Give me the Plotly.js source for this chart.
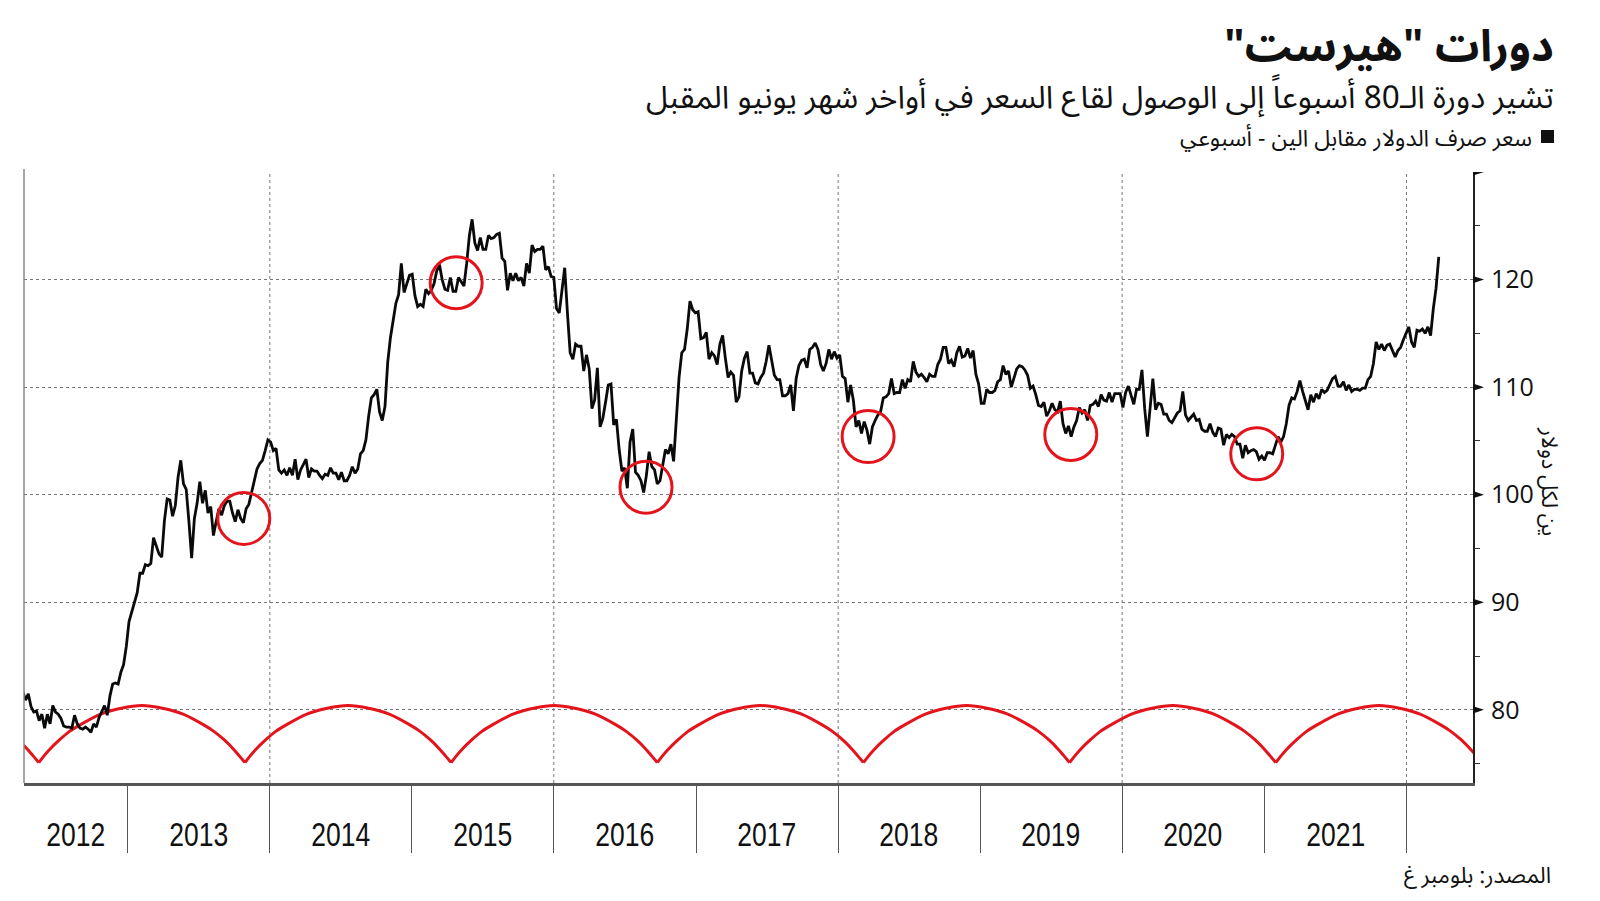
<!DOCTYPE html>
<html><head><meta charset="utf-8">
<script src="https://cdn.plot.ly/plotly-3.0.1.min.js"></script>
<style>html,body{margin:0;padding:0;background:#fff;}#chart{width:1600px;height:901px;}</style>
</head><body><div id="chart"></div>
<script>
// ---- DATA ----
const firstWeek = '2012-04-06'; // weekly (Friday) closes, USD/JPY
const usdjpy2012 = [81.7,80.9,81.5,80.3, 79.8,79.9,79.0,79.6, 78.3,79.6,78.7,80.4,79.8, 79.6,79.2,78.5,78.4, 78.4,78.3,79.5,78.7,78.3, 78.2,78.4,78.2,77.9, 78.7,78.4,79.3,79.9, 80.4,79.5,81.3,82.4,82.5, 82.4,83.5,84.2,85.9];
const usdjpy2013 = [88.2,89.2,90.0,90.9, 92.7,92.7,93.5,93.4, 93.6,96.0,95.3,94.5,94.2, 97.6,99.6,99.5,98.0, 99.0,101.6,103.2,101.0,100.5, 97.5,94.1,97.8,99.2, 101.2,99.2,100.4,98.3, 98.9,96.2,97.5,98.7,98.1, 99.0,99.4,99.4,98.3, 97.5,98.6,97.8,97.4, 98.7,99.1,100.2,101.3,102.4, 102.9,103.2,104.1,105.1];
const usdjpy2014 = [104.9,104.1,104.3,102.3,102.0, 102.3,101.8,102.5,101.8, 103.3,101.4,102.3,102.8, 103.3,101.6,102.4,102.2, 102.2,101.8,101.5,101.9,101.8, 102.5,102.0,102.0,101.4, 102.1,101.3,101.3,101.8, 102.6,102.0,102.4,103.8,104.1, 105.1,107.3,109.0,109.3, 109.8,107.7,106.9,108.2,112.3, 114.6,116.3,117.8,118.6, 121.5,118.8,119.5,120.4];
const usdjpy2015 = [120.5,118.5,117.5,117.7,117.5, 119.1,118.7,119.0,119.6, 120.8,121.4,120.0,119.1, 119.0,120.2,118.9,118.9, 120.2,119.8,119.4,121.5,124.1, 125.6,123.4,122.7,123.9, 122.8,122.8,124.1,123.8,123.9, 124.2,124.3,122.0,121.7, 119.0,120.6,119.9,120.6, 119.9,120.2,119.4,121.5,120.6, 123.2,122.6,122.8,122.8, 123.1,120.9,121.2,120.3];
const usdjpy2016 = [120.2,117.3,116.9,118.8,121.1, 116.9,113.2,112.6,114.0, 113.8,113.8,111.5,113.0, 111.7,108.0,108.8,111.8,106.3, 107.1,108.6,110.2,110.3, 106.5,107.0,104.2,102.2, 102.5,100.6,104.9,106.1,102.1, 101.8,101.3,100.2,101.8, 104.0,102.6,102.3,101.0,101.3, 102.9,104.2,103.8,104.7, 103.1,106.7,110.9,113.2, 113.5,115.4,118.0,117.2,116.9];
const usdjpy2017 = [117.0,114.5,114.6,115.1, 112.6,113.2,112.9,112.1, 114.0,114.8,112.7,110.9,111.4, 111.1,108.6,109.1,111.5, 112.7,113.3,111.3,111.3, 110.4,110.3,110.9,111.3,112.4, 113.9,112.5,111.1,110.7, 110.7,109.2,109.2,109.4, 110.2,107.8,110.8,112.0,112.5, 112.6,111.8,113.5,113.7, 114.1,113.5,112.1,111.5, 112.2,113.5,112.6,113.3,112.7];
const usdjpy2018 = [113.0,111.0,110.8,108.6, 110.2,108.8,106.3,106.9, 105.7,106.8,106.0,104.7,106.3, 106.9,107.4,107.7,109.0, 109.1,109.4,110.8,109.4, 109.5,109.5,110.7,109.9,110.7, 110.5,112.4,111.4,111.0, 111.2,110.9,110.5,111.2,111.0, 111.0,112.1,112.6,113.7, 113.7,112.2,112.5,111.9, 113.2,113.8,112.8,112.9,113.6, 112.7,113.4,111.2,110.3];
const usdjpy2019 = [108.5,108.5,109.8,109.5, 109.5,109.7,110.5,110.7, 112.0,111.2,111.5,110.0,110.9, 111.7,112.0,111.9,111.6, 111.1,109.9,110.1,109.3,108.3, 108.2,108.6,107.3,107.8, 108.5,107.9,107.7,108.7, 106.6,105.7,106.4,105.4,106.3, 106.9,108.1,107.6,107.9, 106.9,108.3,108.4,108.7, 108.2,109.3,108.8,108.7,109.5, 108.6,109.4,109.4,109.4];
const usdjpy2020 = [108.1,109.5,110.1,109.3,108.4, 109.8,109.8,111.6,108.0, 105.4,107.9,110.8,107.9, 108.5,108.4,107.5,107.5, 106.9,106.7,107.1,107.6,107.8, 109.6,107.4,106.9,107.2, 107.5,106.9,107.0,106.1,105.9, 105.9,106.6,105.8,105.4, 106.2,106.1,104.6,105.6, 105.3,105.6,105.4,104.7,104.7, 103.4,104.6,103.9,104.1, 104.2,104.0,103.3,103.6];
const usdjpy2021 = [103.2,103.9,103.9,103.8,104.7, 105.4,104.9,105.4,106.6, 108.3,109.0,108.9,109.6, 110.6,109.6,108.8,107.9,109.3, 108.6,109.4,108.9,109.8, 109.5,109.7,110.2,110.8, 111.0,110.1,110.1,110.5,109.7, 110.2,109.6,109.8,109.8, 109.7,109.9,109.9,110.7, 111.0,112.2,114.2,113.5,114.0, 113.4,113.9,114.0,113.4, 112.8,113.4,113.7,114.4,115.1];
const usdjpy2022 = [115.6,114.2,113.7,115.3, 115.2,115.4,115.0,115.6, 114.8,117.3,119.2,122.1];

// Hurst cycle: trough dates and the arch profile
const cycleTroughs = ['2010-12-04','2012-05-17','2013-10-29','2015-04-12','2016-09-23','2018-03-07','2019-08-19','2021-01-30','2022-07-14'];
const archFraction = [0,0.025,0.05,0.1,0.15,0.2,0.3,0.4,0.5,0.6,0.7,0.8,0.85,0.9,0.95,0.975,1];
const archValue    = [75.1,75.7,76.25,77.2,78.0,78.6,79.6,80.15,80.4,80.15,79.6,78.6,78.0,77.2,76.25,75.7,75.1];

// circled troughs
const troughDates  = ['2013-10-26','2015-04-25','2016-08-25','2018-03-19','2019-08-22','2020-12-12'];
const troughValues = [97.8,119.7,100.7,105.4,105.6,103.8];

// axes
const yTicks = [80,90,100,110,120,130];
const yTickText = ['80','90','100','110','120',''];
const yearStarts = ['2013-01-01','2014-01-01','2015-01-01','2016-01-01','2017-01-01','2018-01-01','2019-01-01','2020-01-01','2021-01-01','2022-01-01'];
const gridYears = ['2014-01-01','2016-01-01','2018-01-01','2020-01-01','2022-01-01'];
const yearLabels = ['2012','2013','2014','2015','2016','2017','2018','2019','2020','2021'];
const yearLabelDates = ['2012-08-19','2013-07-02','2014-07-02','2015-07-02','2016-07-01','2017-07-02','2018-07-02','2019-07-02','2020-07-01','2021-07-02'];
const xRange = ['2012-04-09','2022-06-21'];
const yRange = [73.2, 130];

const titleText = 'دورات "هيرست"\u200F';
const subtitleText = 'تشير دورة الـ80 أسبوعاً إلى الوصول لقاع السعر في أواخر شهر يونيو المقبل';
const legendText = 'سعر صرف الدولار مقابل الين - أسبوعي';
const yTitleText = 'ين لكل دولار';
const sourceText = 'المصدر: بلومبرغ';

// ---- BUILD ----
const values = [].concat(usdjpy2012,usdjpy2013,usdjpy2014,usdjpy2015,usdjpy2016,usdjpy2017,usdjpy2018,usdjpy2019,usdjpy2020,usdjpy2021,usdjpy2022);
const t0 = Date.parse(firstWeek + 'T00:00:00Z');
const dates = values.map((v,i)=> new Date(t0 + i*7*86400000).toISOString().slice(0,10));

const cx = [], cy = [];
for (let i=0;i<cycleTroughs.length-1;i++){
  const a = Date.parse(cycleTroughs[i]+'T00:00:00Z'), b = Date.parse(cycleTroughs[i+1]+'T00:00:00Z');
  archFraction.forEach((f,k)=>{ cx.push(new Date(a+f*(b-a)).toISOString().slice(0,10)); cy.push(archValue[k]); });
  cx.push(null); cy.push(null);
}

const L=24, R=1473, T=172, B=783;
const px = x => (x-L)/(R-L);
const py = y => (B-y)/(B-T);

const arabic = 'Noto Sans Arabic UI, Noto Sans Arabic, DejaVu Sans, sans-serif';
const red = '#e3141b';

const traces = [
  {x:cx, y:cy, type:'scatter', mode:'lines', line:{color:red, width:3, shape:'spline', smoothing:0.8}, connectgaps:false, hoverinfo:'skip', showlegend:false},
  {x:dates, y:values, type:'scatter', mode:'lines', line:{color:'#0a0a0a', width:2.8}, hoverinfo:'skip', showlegend:false}
];

const shapes = [];
gridYears.forEach(d=>shapes.push({type:'line', xref:'x', yref:'paper', x0:d, x1:d, y0:0, y1:1, line:{color:'#777', width:1, dash:'dot'}, layer:'below'}));
shapes.push({type:'line', xref:'paper', yref:'paper', x0:0, x1:0, y0:0, y1:1.005, line:{color:'#888', width:1.5}});
troughDates.forEach((d,i)=>shapes.push({type:'circle', xref:'x', yref:'y', xsizemode:'pixel', ysizemode:'pixel', xanchor:d, yanchor:troughValues[i], x0:-26, x1:26, y0:-26, y1:26, line:{color:red, width:3}, layer:'above'}));
yTicks.forEach(v=>shapes.push({type:'path', xref:'paper', yref:'y', xsizemode:'pixel', ysizemode:'pixel', xanchor:1, yanchor:v, path:'M0,-3.6 L11,0 L0,3.6 Z', fillcolor:'#111', line:{width:0}}));
shapes.push({type:'rect', xref:'paper', yref:'paper', x0:px(1541), x1:px(1554), y0:py(143), y1:py(130), fillcolor:'#111', line:{width:0}});

const annotations = [
  {xref:'paper', yref:'paper', x:px(1556), y:py(44), xanchor:'right', yanchor:'middle', showarrow:false, text:titleText, font:{family:arabic, size:44, color:'#111', weight:700}},
  {xref:'paper', yref:'paper', x:px(1556), y:py(96), xanchor:'right', yanchor:'middle', showarrow:false, text:subtitleText, font:{family:arabic, size:31.5, color:'#111'}},
  {xref:'paper', yref:'paper', x:px(1534), y:py(137), xanchor:'right', yanchor:'middle', showarrow:false, text:legendText, font:{family:arabic, size:23, color:'#111'}},
  {xref:'paper', yref:'paper', x:px(1551), y:py(481), xanchor:'center', yanchor:'middle', showarrow:false, textangle:90, text:yTitleText, font:{family:arabic, size:22, color:'#111'}},
  {xref:'paper', yref:'paper', x:px(1553), y:py(874), xanchor:'right', yanchor:'middle', showarrow:false, text:sourceText, font:{family:arabic, size:22.5, color:'#111'}}
];
yearLabels.forEach((t,i)=>annotations.push({xref:'x', yref:'paper', x:yearLabelDates[i], y:py(835), xanchor:'center', yanchor:'middle', showarrow:false, text:t, font:{family:'Liberation Sans, Arial, sans-serif', size:33, color:'#111'}}));

const layout = {
  width:1600, height:901,
  margin:{l:L, r:1600-R, t:T, b:901-B, pad:0},
  paper_bgcolor:'#fff', plot_bgcolor:'#fff',
  showlegend:false,
  xaxis:{type:'date', range:xRange, tickmode:'array', tickvals:yearStarts, showticklabels:false,
         ticks:'outside', ticklen:67, tickwidth:1, tickcolor:'#555',
         showgrid:false, zeroline:false, showline:true, linecolor:'#555', linewidth:3, fixedrange:true},
  yaxis:{side:'right', range:yRange, tickmode:'array', tickvals:yTicks, ticktext:yTickText,
         ticks:'outside', ticklen:11, tickcolor:'rgba(0,0,0,0)',
         tickfont:{family:'Open Sans, Noto Sans, sans-serif', size:25, color:'#111'},
         showgrid:true, gridcolor:'#777', gridwidth:1, griddash:'dot',
         minor:{tickmode:'array', tickvals:[75,85,95,105,115,125], ticks:'outside', ticklen:5, tickcolor:'#333', tickwidth:1, showgrid:false},
         zeroline:false, showline:true, linecolor:'#222', linewidth:2, fixedrange:true},
  shapes:shapes,
  annotations:annotations
};

Plotly.newPlot('chart', traces, layout, {staticPlot:true, displayModeBar:false}).then(()=>{
  // narrow (condensed) year labels as in the reference
  document.querySelectorAll('#chart .annotation-text').forEach(t=>{
    if (yearLabels.includes(t.textContent)) { t.setAttribute('textLength','59'); t.setAttribute('lengthAdjust','spacingAndGlyphs'); }
  });
});
</script>
</body></html>
